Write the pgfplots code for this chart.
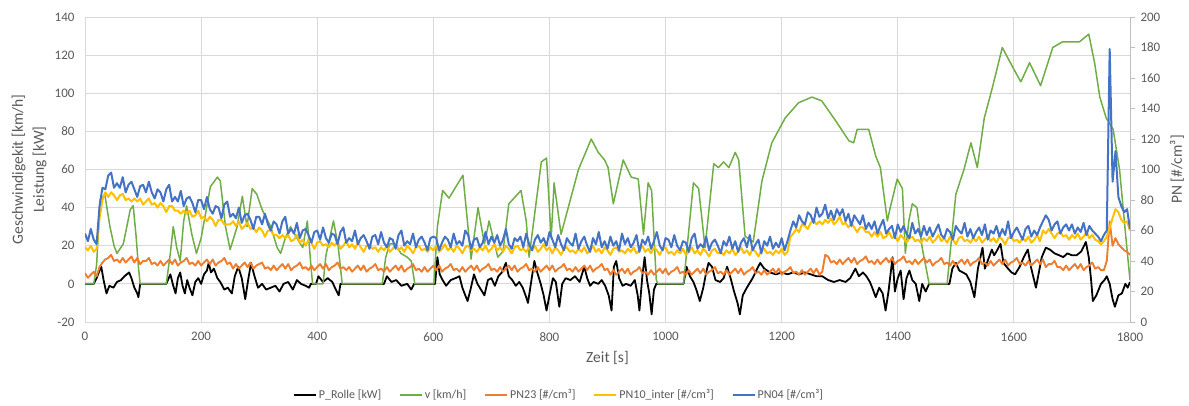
\documentclass[border=0pt]{standalone}
\usepackage{pgfplots}
\pgfplotsset{compat=1.18}
\usepackage{pgfplotstable}
\usepackage{fontspec}
\setmainfont{Carlito}
\definecolor{txtgray}{HTML}{595959}
\definecolor{gridgray}{HTML}{D9D9D9}
\definecolor{axgray}{HTML}{BFBFBF}
\definecolor{cgreen}{HTML}{70AD47}
\definecolor{corange}{HTML}{ED7D31}
\definecolor{cyellow}{HTML}{FFC000}
\definecolor{cblue}{HTML}{4472C4}

\pgfplotstableread{
b y o
58 49 32
53 47 29
61 50 31
54 46 33
51 48 30
76 68 36
88 80 39
87 85 41
96 82 42
98 85 44
88 83 40
91 80 41
88 83 39
95 84 42
85 80 39
90 81 41
92 79 43
87 81 39
82 79 42
89 81 38
90 77 40
85 79 40
92 81 42
85 77 38
81 78 39
87 75 37
85 78 40
79 76 37
87 72 39
90 76 41
79 76 38
82 73 41
79 73 37
86 71 39
76 73 40
81 71 42
82 73 38
78 69 39
72 70 37
80 73 40
80 68 37
74 69 39
82 66 41
74 69 38
71 67 41
76 63 37
75 67 39
68 67 40
77 64 42
79 64 38
69 64 39
71 66 35
68 63 38
75 66 35
65 61 37
70 63 39
71 65 36
67 61 39
61 62 35
69 59 37
69 62 38
64 60 39
71 56 35
64 60 36
60 60 34
66 57 37
64 57 34
58 55 36
66 57 38
69 55 35
58 57 38
61 53 34
58 54 36
65 57 37
55 52 39
60 54 35
61 50 36
57 54 34
52 52 37
59 48 34
60 52 36
54 53 38
62 50 35
55 51 38
52 49 34
58 52 36
57 50 37
51 53 39
59 48 35
62 50 36
52 53 34
55 49 36
53 51 33
60 48 35
51 52 37
55 49 34
57 46 37
53 50 33
48 51 35
56 48 36
57 49 38
51 46 34
59 49 35
52 47 33
49 50 36
55 46 33
54 48 35
48 51 37
57 47 34
60 49 37
50 46 33
53 50 35
51 48 36
58 45 38
49 49 34
54 50 35
56 47 33
52 48 36
47 46 33
55 49 35
56 47 37
55 50 34
47 46 37
52 48 33
56 51 35
54 47 36
49 49 38
58 46 34
51 50 35
53 48 33
50 45 36
60 49 33
57 50 35
48 47 37
54 48 34
55 46 37
49 49 33
52 47 35
59 50 36
51 46 38
56 48 34
52 51 35
57 47 33
50 49 36
54 46 33
61 50 35
51 48 37
48 45 34
55 49 37
53 50 33
56 47 35
49 48 36
58 46 38
51 49 34
47 47 35
54 50 33
57 46 36
52 48 33
55 51 35
50 47 37
59 49 34
54 45 37
49 49 33
57 47 35
51 44 36
47 48 38
55 49 34
52 46 35
50 47 33
58 45 36
48 48 33
53 46 35
56 49 37
50 45 34
46 47 37
55 50 33
51 46 35
59 48 36
49 45 38
53 49 34
48 47 35
56 44 31
50 48 34
53 49 31
47 46 33
58 47 35
51 45 32
55 48 35
49 46 31
52 49 33
57 45 34
46 47 36
54 50 32
51 46 33
56 48 31
48 45 34
53 49 31
59 47 33
50 44 35
47 48 32
55 49 35
54 45 31
49 46 33
57 44 34
50 47 36
47 45 32
53 48 33
52 44 31
46 46 34
55 49 31
58 45 33
48 47 35
51 44 32
49 48 35
56 46 31
47 43 33
52 47 34
54 48 36
50 45 32
45 46 33
53 44 31
50 47 34
56 45 31
48 48 33
53 44 35
46 46 32
52 49 35
55 45 31
49 47 33
57 44 34
47 48 36
51 46 32
54 43 33
45 47 31
53 48 34
50 45 31
56 46 33
48 44 35
52 47 32
49 45 35
55 48 31
47 44 33
53 46 34
60 56 36
66 58 32
62 61 33
70 59 31
66 64 34
64 63 31
72 61 33
70 65 35
65 67 32
75 64 35
69 66 31
71 64 33
77 67 44
68 65 43
73 68 39
67 64 40
74 66 38
70 69 41
74 64 38
66 65 40
71 62 42
63 65 39
70 62 42
67 59 38
64 62 40
70 62 41
61 59 43
65 59 39
61 56 40
66 59 38
58 56 41
63 59 38
67 55 40
58 56 42
61 59 39
63 55 42
55 56 38
64 53 40
59 57 41
63 55 43
58 52 39
55 55 40
65 56 38
58 53 41
61 54 38
56 52 40
63 55 42
57 53 39
62 56 41
56 52 37
60 54 39
64 57 40
57 53 42
55 55 38
61 52 39
59 56 37
54 54 40
63 51 37
60 55 39
58 56 41
65 53 38
56 54 41
61 52 37
55 55 39
59 53 40
62 56 42
57 52 38
64 54 39
54 57 37
60 53 40
58 55 37
63 52 39
56 56 41
61 54 38
57 51 41
66 55 37
55 56 39
59 53 40
62 54 42
58 52 38
54 55 39
61 53 37
63 56 40
56 52 37
60 54 39
57 57 41
62 53 38
66 60 41
70 58 36
67 61 38
60 58 38
64 55 40
66 58 36
58 59 36
62 56 34
64 57 37
60 54 34
64 57 36
58 55 38
62 58 35
59 54 38
65 56 34
57 59 36
63 55 37
60 57 39
58 54 35
56 53 36
53 51 34
57 53 34
60 56 40
179 62 66
92 68 50
112 74 55
82 72 51
76 67 49
72 65 47
74 66 46
61 60 44
}\PNdata

\begin{document}
\begin{tikzpicture}[x=1pt,y=1pt]
\useasboundingbox (0,0) rectangle (1189,405);
\pgfplotsset{
  every axis/.append style={
    scale only axis, width=1045pt, height=305pt,
    at={(85pt,83pt)}, anchor=south west,
    xmin=0, xmax=1800,
    /pgf/number format/assume math mode=true,
    /pgf/number format/1000 sep={},
    tick label style={font=\fontsize{13}{15}\selectfont, text=txtgray},
    label style={font=\fontsize{15.5}{21}\selectfont, text=txtgray},
  }
}
\begin{axis}[
  ymin=-20, ymax=140,
  xtick={0,200,...,1800},
  ytick={-20,0,...,140},
  grid=major,
  grid style={draw=gridgray, line width=0.8pt},
  axis line style={draw=gridgray, line width=0.8pt},
  major tick length=0pt,
  xticklabel style={yshift=-7pt},
  yticklabel style={xshift=-7pt},
  xlabel={Zeit [s]},
  xlabel style={at={(axis description cs:0.5,0)}, anchor=center, yshift=-36pt},
  ylabel={Geschwindigekit [km/h]\\Leistung [kW]},
  ylabel style={align=center, at={(axis description cs:0,0.5)}, anchor=center, yshift=56pt},
]
\addplot[black, line width=1.8pt, line join=round] coordinates {
(0,0)(15,0)(20,3)(25,7)(28,9)(32,2)(37,-5)(42,-1)(49,-2)(55,1)(62,2)(68,4)(72,5)(76,6)(80,3)(85,-2)(90,-5)(92,-7)(95,0)(140,0)(147,5)(152,-1)(156,-5)(160,3)(164,6)(168,-1)(172,-5)(176,2)(180,-2)(185,-6)(190,1)(195,3)(200,0)(205,5)(210,7)(213,11)(217,6)(222,8)(228,3)(233,1)(240,-3)(246,-2)(253,-5)(258,4)(264,9)(270,3)(276,-8)(281,2)(286,11)(292,4)(298,-2)(305,0)(312,-3)(320,-2)(328,-1)(335,-4)(342,0)(350,1)(358,-3)(365,2)(372,0)(380,-1)(386,-2)(389,0)(398,0)(402,4)(410,1)(418,3)(426,1)(432,-3)(437,-6)(440,0)(515,0)(520,4)(528,1)(536,2)(545,-1)(555,0)(562,-3)(567,0)(603,0)(607,14)(611,5)(616,2)(622,-1)(630,2)(638,3)(645,4)(650,-2)(655,-6)(659,-9)(664,-3)(670,5)(676,0)(682,-3)(688,-6)(694,2)(700,3)(706,-1)(712,4)(718,6)(725,11)(730,4)(736,2)(742,-1)(748,1)(754,-2)(760,-7)(763,-10)(768,0)(774,12)(779,6)(785,0)(790,-6)(795,-14)(800,-6)(806,3)(811,1)(817,-12)(822,0)(828,3)(836,2)(844,4)(852,1)(860,9)(865,3)(870,-1)(876,1)(884,0)(890,2)(896,-1)(902,-6)(907,-14)(911,9)(915,12)(920,3)(926,-1)(932,0)(940,-1)(947,2)(952,-6)(955,-14)(960,4)(964,14)(968,2)(972,-5)(976,-16)(980,-3)(984,0)(1031,0)(1036,9)(1042,4)(1048,1)(1053,-3)(1059,-9)(1065,-2)(1070,6)(1074,11)(1080,9)(1086,2)(1094,1)(1100,3)(1106,9)(1112,3)(1118,-4)(1124,-10)(1128,-16)(1133,-6)(1140,-2)(1150,3)(1158,8)(1163,11)(1170,8)(1180,6)(1190,5)(1200,6)(1210,5)(1220,6)(1230,5)(1240,6)(1250,5)(1260,4)(1270,4)(1280,2)(1290,1)(1300,2)(1310,1)(1318,3)(1327,8)(1333,4)(1340,6)(1346,4)(1352,1)(1356,-2)(1362,-7)(1368,-2)(1374,-5)(1379,-14)(1384,-4)(1391,14)(1395,-4)(1400,3)(1405,7)(1410,-8)(1415,3)(1420,7)(1425,2)(1431,0)(1437,-9)(1442,0)(1448,-4)(1454,0)(1489,0)(1494,8)(1500,11)(1506,7)(1512,6)(1518,5)(1525,1)(1532,-7)(1538,8)(1546,19)(1550,8)(1556,13)(1562,18)(1566,15)(1570,17)(1577,21)(1582,11)(1590,8)(1596,6)(1602,5)(1610,9)(1617,14)(1624,18)(1630,8)(1638,-2)(1643,6)(1648,14)(1655,19)(1662,18)(1670,16)(1678,15)(1685,14)(1692,16)(1700,15)(1708,15)(1716,17)(1724,22)(1729,14)(1733,2)(1736,-9)(1742,-6)(1750,0)(1756,2)(1760,4)(1765,0)(1770,-8)(1774,-12)(1780,-6)(1786,-5)(1792,0)(1796,-2)(1800,1)
};
\addplot[cgreen, line width=1.5pt, line join=round] coordinates {
(0,0)(15,0)(20,10)(26,44)(34,47)(43,30)(50,20)(55,16)(66,21)(78,39)(83,41)(88,25)(92,9)(95,0)(140,0)(147,16)(152,30)(158,19)(164,12)(170,33)(175,41)(184,26)(192,16)(200,24)(216,51)(228,56)(233,54)(242,30)(250,18)(262,30)(271,46)(279,30)(288,50)(296,47)(305,39)(320,30)(331,19)(337,16)(345,24)(354,30)(365,24)(375,19)(383,33)(389,10)(392,0)(410,0)(415,15)(428,33)(436,20)(443,0)(512,0)(518,14)(525,21)(535,21)(544,16)(555,14)(562,12)(568,0)(601,0)(607,30)(616,49)(627,45)(651,57)(665,13)(677,40)(688,21)(696,33)(711,14)(720,17)(730,42)(751,49)(760,33)(765,14)(786,64)(795,66)(803,24)(808,53)(820,26)(850,60)(872,76)(884,69)(895,65)(901,61)(910,42)(927,65)(941,56)(953,55)(962,26)(970,53)(976,49)(984,2)(987,0)(1031,0)(1048,53)(1057,50)(1068,19)(1083,63)(1091,61)(1100,64)(1109,61)(1120,69)(1126,65)(1137,25)(1151,22)(1166,54)(1183,74)(1206,87)(1229,95)(1252,98)(1269,96)(1292,86)(1316,75)(1324,74)(1330,81)(1350,81)(1362,67)(1370,61)(1382,33)(1387,40)(1399,55)(1408,50)(1413,16)(1419,33)(1425,42)(1433,40)(1442,19)(1454,0)(1485,0)(1500,47)(1514,60)(1526,74)(1537,61)(1549,87)(1563,103)(1580,124)(1601,112)(1612,106)(1627,116)(1646,104)(1667,124)(1684,127)(1713,127)(1729,131)(1739,116)(1748,98)(1759,87)(1771,81)(1782,60)(1793,24)(1800,2)
};
\end{axis}
\begin{axis}[
  ymin=0, ymax=200,
  ytick={0,20,...,200},
  axis y line*=right,
  axis x line=none,
  axis line style={draw=axgray, line width=0.8pt},
  tick style={draw=axgray, line width=0.8pt},
  major tick length=5pt,
  tick align=outside,
  yticklabel style={xshift=2pt},
  ylabel={PN [\#/cm³]},
  ylabel style={at={(axis description cs:1,0.5)}, anchor=center, yshift=-47pt},
  legend style={draw=none, fill=none, at={(axis description cs:0.4536,-0.239)}, anchor=center,
    font=\fontsize{12}{14}\selectfont, text=txtgray},
  legend columns=5,
  /tikz/every even column/.append style={column sep=16pt},
  legend image code/.code={\draw[#1] (0pt,0pt) -- (22pt,0pt);},
]
\addlegendimage{black, line width=1.8pt}
\addlegendentry{P\_Rolle [kW]}
\addlegendimage{cgreen, line width=1.5pt}
\addlegendentry{v [km/h]}
\addplot[corange, line width=1.9pt, line join=round] table[x expr=\coordindex*5, y=o] {\PNdata};
\addlegendentry{PN23 [\#/cm³]}
\addplot[cyellow, line width=2pt, line join=round] table[x expr=\coordindex*5, y=y] {\PNdata};
\addlegendentry{PN10\_inter [\#/cm³]}
\addplot[cblue, line width=2pt, line join=round] table[x expr=\coordindex*5, y=b] {\PNdata};
\addlegendentry{PN04 [\#/cm³]}
\end{axis}
\end{tikzpicture}
\end{document}
